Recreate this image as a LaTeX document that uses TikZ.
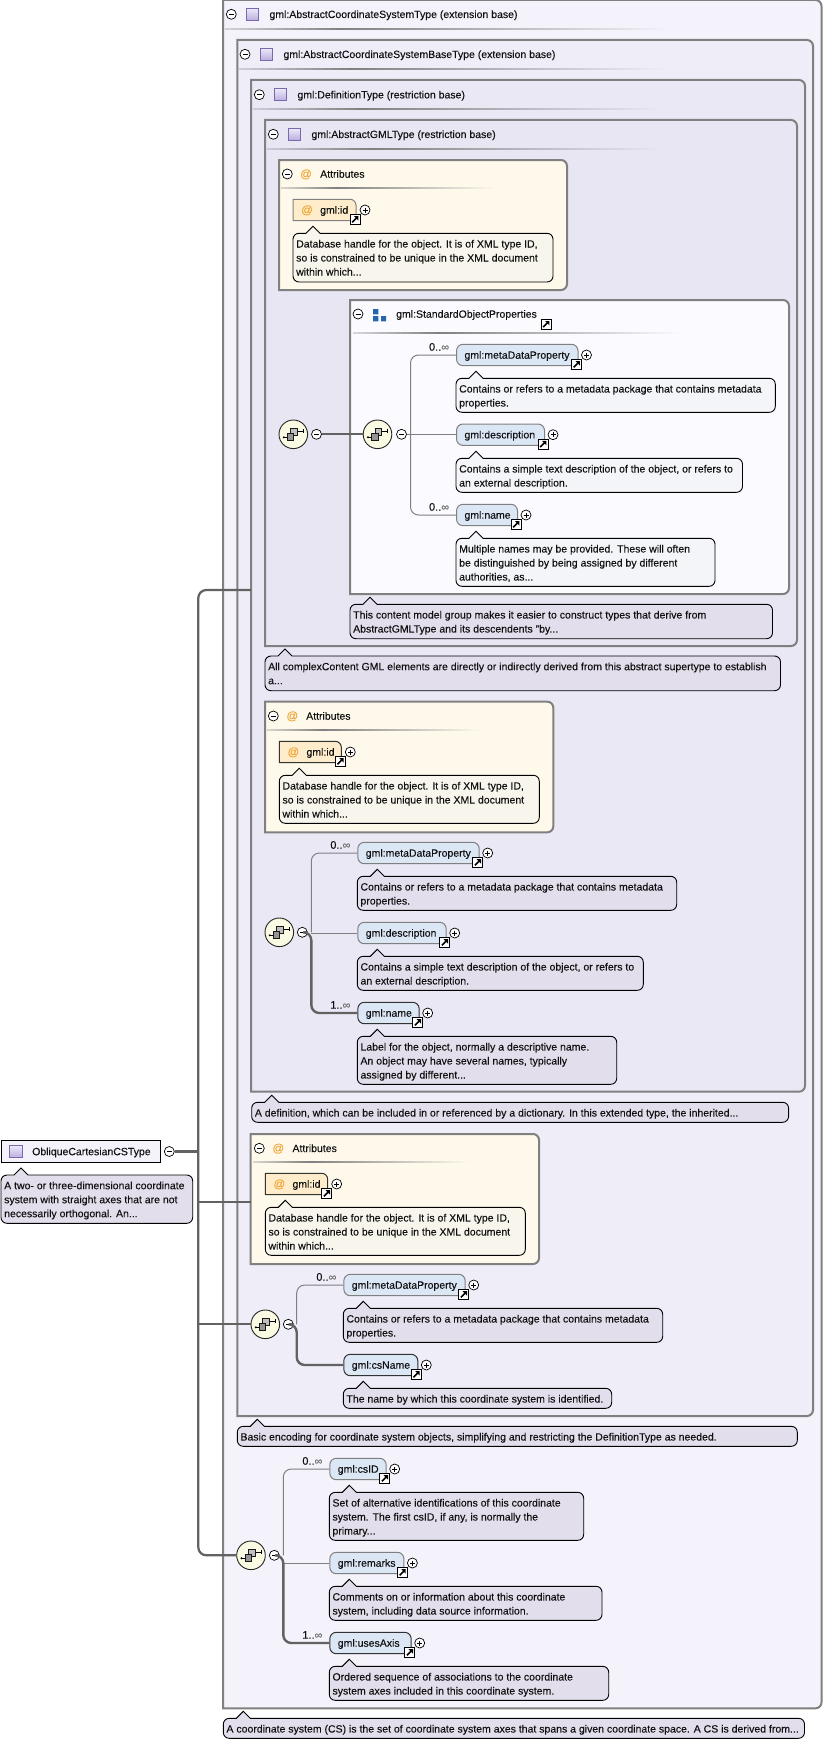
\documentclass[tikz,border=0pt]{standalone}
\usepackage{fontspec}
\setmainfont{Liberation Sans}[FakeBold=0.12]
\definecolor{bgA}{HTML}{F4F2FA}
\definecolor{bgB}{HTML}{EFEDF7}
\definecolor{bgC}{HTML}{EBE8F5}
\definecolor{bgD}{HTML}{E9E6F3}
\definecolor{bgAttr}{HTML}{FFF9EC}
\definecolor{bgStd}{HTML}{FBFBFF}
\definecolor{cLav}{HTML}{E3DEEC}
\definecolor{cAttr}{HTML}{F8F5EC}
\definecolor{cStd}{HTML}{F4F5F8}
\definecolor{elFill}{HTML}{DCE7F6}
\definecolor{atFill}{HTML}{FFECCB}
\definecolor{bord}{HTML}{808080}
\definecolor{ink}{HTML}{111111}
\definecolor{busc}{HTML}{626262}
\definecolor{seqFill}{HTML}{FBFAE2}
\definecolor{atOr}{HTML}{F0A838}
\definecolor{grpBlue}{HTML}{2565B0}
\definecolor{icBord}{HTML}{7B68AE}
\definecolor{icTop}{HTML}{EDEBFA}
\definecolor{icBot}{HTML}{B9ACDC}
\newcommand{\tstrut}{\rule[-3.3pt]{0pt}{14pt}}
\newcommand{\infsym}{{\color{black!55}∞}}
\tikzset{
 boxline/.style={draw=bord,line width=2pt},
 cmtline/.style={draw=black,line width=0.9pt},
 txt/.style={inner sep=0pt,text=ink,font=\fontsize{10.5}{14}\selectfont,anchor=west},
 cmttxt/.style={inner sep=0pt,text=ink,font=\fontsize{10.5}{14}\selectfont,anchor=north west,align=left},
 toggle/.style={circle,draw=black,line width=0.7pt,fill=white,minimum size=10pt,inner sep=0pt},
 seqnode/.style={circle,draw=black!85,line width=0.9pt,fill=seqFill,minimum size=28.6pt,inner sep=0pt},
 thinc/.style={draw=bord,line width=1pt,rounded corners=8pt},
 thickc/.style={draw=busc,line width=2.4pt,rounded corners=8pt},
 busl/.style={draw=busc,line width=2.2pt,rounded corners=8pt},
 optel/.style={draw=bord,line width=1pt},
 reqel/.style={draw=black!80,line width=1pt},
}
% title separator: x1 x2 y bg, painted in overlapping steps
\newcommand{\sepl}[4]{%
 \pgfmathsetmacro{\seplen}{#2-#1}%
 \foreach \i in {0,...,59}{%
  \pgfmathsetmacro{\sepx}{#1+\seplen*(\i/60)}%
  \pgfmathsetmacro{\sepp}{\i<15 ? 30+70*\i/15 : 100*(59-\i)/44}%
  \fill[bord!\sepp!#4] (\sepx,#3-1) rectangle (#2,#3+1);
 }}
% box with rounded right corners: name x1 y1 x2 y2 fill
\newcommand{\bx}[6]{%
 \draw[boxline,fill=#6] (#2,#3) [rounded corners=6pt] -- (#4,#3) -- (#4,#5) [sharp corners] -- (#2,#5) -- cycle;
 \coordinate (#1) at (#2,#3);}
% comment: name x1 y1 x2 y2 fill text
\newcommand{\cmt}[7]{%
 \draw[cmtline,fill=#6] (#2+13,#3) -- (#2+20,#3-7) -- (#2+27,#3) -- (#4-6,#3) .. controls (#4-2.6,#3) and (#4,#3+2.6) .. (#4,#3+6) -- (#4,#5-6) .. controls (#4,#5-2.6) and (#4-2.6,#5) .. (#4-6,#5) -- (#2+6,#5) .. controls (#2+2.6,#5) and (#2,#5-2.6) .. (#2,#5-6) -- (#2,#3+6) .. controls (#2,#3+2.6) and (#2+2.6,#3) .. (#2+6,#3) -- cycle;
 \node[cmttxt] (#1) at (#2+3,#3+3.3) {\tstrut #7};}
% toggles: name x y
\newcommand{\tgm}[3]{%
 \node[toggle] (#1) at (#2,#3) {};
 \draw[black,line width=0.8pt] (#2-2.5,#3) -- (#2+2.5,#3);}
\newcommand{\tgp}[3]{%
 \node[toggle] (#1) at (#2,#3) {};
 \draw[black,line width=0.8pt] (#2-2.5,#3) -- (#2+2.5,#3) (#2,#3-2.5) -- (#2,#3+2.5);}
% link icon
\newcommand{\lnk}[2]{%
 \draw[black,line width=1pt,fill=white] (#1-5,#2-5) rectangle (#1+5,#2+5);
 \draw[black,line width=1.6pt] (#1-2.8,#2+2.8) -- (#1+1.5,#2-1.5);
 \fill[black] (#1+3.3,#2-3.3) -- (#1-1,#2-3.3) -- (#1+3.3,#2+1) -- cycle;}
% type icon
\newcommand{\ticon}[2]{%
 \draw[draw=icBord,line width=0.8pt,top color=icTop,bottom color=icBot] (#1,#2-6.2) rectangle (#1+12.6,#2+6.2);}
% sequence node
\newcommand{\seqn}[3]{%
 \node[seqnode] (#1) at (#2,#3) {};
 \draw[black,line width=0.9pt] (#2-9.5,#3+3) -- (#2-6,#3+3) (#2+4,#3-3.3) -- (#2+10,#3-3.3) (#2+10,#3-5) -- (#2+10,#3-1.6);
 \fill[black] (#2-9.5,#3+3) circle (1.1pt);
 \draw[black!90,line width=1pt,fill=black!25] (#2-2.4,#3-5.6) rectangle (#2+4,#3+1);
 \draw[black!90,line width=0.9pt,fill=black!42] (#2-6,#3-0.4) rectangle (#2+0.6,#3+5.8);}
% element: name x1 x2 ymid style text
\newcommand{\elem}[6]{%
 \pgfmathsetmacro{\elw}{#3-#2}%
 \node[#5,fill=elFill,rounded corners=6.5pt,anchor=west,minimum width=\elw pt,minimum height=21.4pt,inner ysep=0pt,text=ink,font=\fontsize{10.5}{14}\selectfont,text width=\elw pt-16pt,inner xsep=8pt,align=left] (#1) at (#2,#4) {\tstrut #6};
 \lnk{#3-1}{#4+9.5}
 \tgp{#1p}{#3+9}{#4}}
% attribute: name x1 x2 ymid drawcolor
\newcommand{\attrn}[5]{%
 \draw[draw=#5,line width=1pt,fill=atFill] (#2,#4-10.7) [rounded corners=6pt] -- (#3,#4-10.7) [sharp corners] -- (#3,#4+10.7) -- (#2,#4+10.7) -- cycle;
 \node[txt,text=atOr,font=\fontsize{11.5}{14}\selectfont] (#1a) at (#2+8,#4) {\tstrut @};
 \node[txt] (#1) at (#2+27,#4) {\tstrut gml:id};
 \lnk{#3-1}{#4+9.5}
 \tgp{#1p}{#3+9}{#4}}
\newcommand{\occ}[4]{\node[txt,anchor=east,font=\fontsize{11}{14}\selectfont] (#1) at (#2-6.7,#3-8) {\tstrut #4};}
\newcommand{\hdr}[6]{% name togglex iconx textx y text
 \tgm{#1t}{#2}{#5}
 \ticon{#3}{#5}
 \node[txt] (#1) at (#4,#5) {\tstrut #6};}
\newcommand{\ahdr}[5]{% name togglex atx textx y
 \tgm{#1t}{#2}{#5}
 \node[txt,anchor=center,text=atOr,font=\fontsize{11.5}{14}\selectfont] (#1a) at (#3,#5) {\tstrut @};
 \node[txt] (#1) at (#4,#5) {\tstrut Attributes};}
\begin{document}
\begin{tikzpicture}[x=1pt,y=-1pt]
\useasboundingbox (0,0) rectangle (823,1742);
\fill[white] (0,0) rectangle (823,1742);
% boxes
\bx{bOuter}{223}{0}{821.5}{1708.3}{bgA}
\hdr{tOuter}{231.3}{246}{269.3}{14.3}{gml:AbstractCoordinateSystemType (extension base)}
\sepl{225}{673}{29}{bgA}
\bx{bBase}{237.3}{40}{813}{1416}{bgB}
\hdr{tBase}{245}{260}{283.3}{54.3}{gml:AbstractCoordinateSystemBaseType (extension base)}
\sepl{239}{669}{69}{bgB}
\bx{bDef}{251}{80}{805}{1091.7}{bgC}
\hdr{tDef}{259.3}{274}{297.3}{94.7}{gml:DefinitionType (restriction base)}
\sepl{253}{667}{109}{bgC}
\bx{bGml}{265}{120}{797}{646}{bgD}
\hdr{tGml}{273.3}{288}{311.3}{134.3}{gml:AbstractGMLType (restriction base)}
\sepl{267}{665}{149}{bgD}
% attributes 1
\bx{bAttrA}{279}{160}{567}{290}{bgAttr}
\ahdr{tAttrA}{287.3}{306}{320}{174}
\sepl{281}{496.7}{187.7}{bgAttr}
\attrn{idA}{293}{356}{210}{bord}
\cmt{cIdA}{293}{233.3}{553}{282}{cAttr}{Database handle for the object. It is of XML type ID,\\so is constrained to be unique in the XML document\\within which...}
% std group
\bx{bStd}{350}{300}{789}{594}{bgStd}
\tgm{tStdt}{358}{314}
\fill[grpBlue] (373,309) rectangle (378.3,314.3) (373,316) rectangle (378.3,321.3) (381,316) rectangle (386.2,321.3);
\node[txt] (tStd) at (396,314) {\tstrut gml:StandardObjectProperties};
\lnk{546}{324.3}
\sepl{353}{682}{332.7}{bgStd}
\seqn{sA}{293.3}{434.3}
\tgm{mA}{316.5}{434.3}
\seqn{sB}{377.5}{434.3}
\tgm{mB}{401.5}{434.3}
\coordinate (jB) at (410.5,434.3);
\elem{eAm}{456}{577.5}{355}{optel}{gml:metaDataProperty}
\elem{eAd}{456}{544}{434.7}{optel}{gml:description}
\elem{eAn}{456}{517}{515}{optel}{gml:name}
\occ{oAm}{456}{355}{0..\infsym}
\occ{oAn}{456}{515}{0..\infsym}
\cmt{cAm}{456}{378.3}{775.3}{412.3}{cStd}{Contains or refers to a metadata package that contains metadata\\properties.}
\cmt{cAd}{456}{458.3}{742.5}{492.3}{cStd}{Contains a simple text description of the object, or refers to\\an external description.}
\cmt{cAn}{456}{538.3}{715}{586.3}{cStd}{Multiple names may be provided. These will often\\be distinguished by being assigned by different\\authorities, as...}
\draw[thinc] (jB) |- (eAm.west);
\draw[thinc] (jB |- eAd.west) -- (eAd.west);
\draw[thinc] (jB) |- (eAn.west);
\draw[thinc,rounded corners=0pt] (mB.east) -- (jB);
\draw[thickc,line width=2pt] (mA.east) -- (sB.west);
\cmt{cStd}{350}{604.3}{772.5}{638.7}{cLav}{This content model group makes it easier to construct types that derive from\\AbstractGMLType and its descendents "by...}
\cmt{cGml}{265}{656}{780.5}{690.7}{cLav}{All complexContent GML elements are directly or indirectly derived from this abstract supertype to establish\\a...}
% attributes 2
\bx{bAttrB}{265}{701.7}{553.3}{832.3}{bgAttr}
\ahdr{tAttrB}{273.3}{292.3}{306}{716}
\sepl{267}{483}{730}{bgAttr}
\attrn{idB}{279.3}{341.3}{752}{black!80}
\cmt{cIdB}{279.3}{775.3}{539.3}{823.3}{cAttr}{Database handle for the object. It is of XML type ID,\\so is constrained to be unique in the XML document\\within which...}
% definition sequence
\seqn{sC}{279.3}{932.3}
\tgm{mC}{302.3}{932.3}
\coordinate (jC) at (311.3,932.3);
\elem{eBm}{357.3}{478.7}{853}{optel}{gml:metaDataProperty}
\elem{eBd}{357.3}{445.7}{933}{optel}{gml:description}
\elem{eBn}{357.3}{418.7}{1013}{reqel}{gml:name}
\occ{oBm}{357.3}{853}{0..\infsym}
\occ{oBn}{357.3}{1013}{1..\infsym}
\cmt{cBm}{357.3}{876.3}{676.7}{910.3}{cLav}{Contains or refers to a metadata package that contains metadata\\properties.}
\cmt{cBd}{357.3}{956.3}{643.3}{990.3}{cLav}{Contains a simple text description of the object, or refers to\\an external description.}
\cmt{cBn}{357.3}{1036.3}{616.7}{1084.3}{cLav}{Label for the object, normally a descriptive name.\\An object may have several names, typically\\assigned by different...}
\draw[thinc] (jC) |- (eBm.west);
\draw[thinc] (jC |- eBd.west) -- (eBd.west);
\draw[thickc] (mC.east) -- (jC) |- (eBn.west);
\cmt{cDef}{251.7}{1102.3}{788.6}{1122.3}{cLav}{A definition, which can be included in or referenced by a dictionary. In this extended type, the inherited...}
% attributes 3
\bx{bAttrC}{250.7}{1134}{539}{1264}{bgAttr}
\ahdr{tAttrC}{259.3}{278.3}{292.3}{1148.3}
\sepl{253}{471.7}{1162.3}{bgAttr}
\attrn{idC}{265.3}{327.7}{1184}{black!80}
\cmt{cIdC}{265.3}{1207.3}{525.3}{1255.3}{cAttr}{Database handle for the object. It is of XML type ID,\\so is constrained to be unique in the XML document\\within which...}
% base sequence
\seqn{sD}{265.3}{1324.3}
\tgm{mD}{288.3}{1324.3}
\coordinate (jD) at (296.7,1324.3);
\elem{eCm}{343.3}{464.7}{1285}{optel}{gml:metaDataProperty}
\elem{eCn}{343.3}{417.3}{1365}{reqel}{gml:csName}
\occ{oCm}{343.3}{1285}{0..\infsym}
\cmt{cCm}{343.3}{1308.3}{662.7}{1342.3}{cLav}{Contains or refers to a metadata package that contains metadata\\properties.}
\cmt{cCn}{343.3}{1388.3}{611.7}{1408.3}{cLav}{The name by which this coordinate system is identified.}
\draw[thinc] (jD) |- (eCm.west);
\draw[thickc] (mD.east) -- (jD) |- (eCn.west);
\cmt{cBase}{237.3}{1426.3}{797.3}{1446.3}{cLav}{Basic encoding for coordinate system objects, simplifying and restricting the DefinitionType as needed.}
% outer sequence
\seqn{sE}{251}{1555.3}
\tgm{mE}{274.3}{1555.3}
\coordinate (jE) at (283.3,1555.3);
\elem{eDi}{329.3}{385.7}{1469}{optel}{gml:csID}
\elem{eDr}{329.3}{403.4}{1563}{optel}{gml:remarks}
\elem{eDa}{329.3}{410.7}{1643}{reqel}{gml:usesAxis}
\occ{oDi}{329.3}{1469}{0..\infsym}
\occ{oDa}{329.3}{1643}{1..\infsym}
\cmt{cDi}{329.3}{1492.3}{583.7}{1540.3}{cLav}{Set of alternative identifications of this coordinate\\system. The first csID, if any, is normally the\\primary...}
\cmt{cDr}{329.3}{1586.3}{602}{1620.3}{cLav}{Comments on or information about this coordinate\\system, including data source information.}
\cmt{cDa}{329.3}{1666.3}{608.7}{1700.3}{cLav}{Ordered sequence of associations to the coordinate\\system axes included in this coordinate system.}
\draw[thinc] (jE) |- (eDi.west);
\draw[thinc,rounded corners=0pt] (jE |- eDr.west) -- (eDr.west);
\draw[thickc] (mE.east) -- (jE) |- (eDa.west);
\cmt{cOuter}{223.3}{1718.3}{804.5}{1738.3}{cLav}{A coordinate system (CS) is the set of coordinate system axes that spans a given coordinate space. A CS is derived from...}
% root
\node[draw=black,line width=1pt,fill=bgA,anchor=west,minimum width=159pt,minimum height=21.6pt,inner xsep=0pt,inner ysep=0pt] (root) at (1,1151.5) {};
\ticon{9.3}{1151.5}
\node[txt] (rootT) at (32,1151.5) {\tstrut ObliqueCartesianCSType};
\tgm{mRoot}{169.3}{1151.5}
\cmt{cRoot}{1}{1175}{192.7}{1223.3}{cLav}{A two- or three-dimensional coordinate\\system with straight axes that are not\\necessarily orthogonal. An...}
% bus
\coordinate (busT) at (198.3,590);
\coordinate (busB) at (198.3,1555.3);
\coordinate (defIn) at (251,590);
\coordinate (attrIn) at (250.7,1202.3);
\coordinate (rootJ) at (198.3,1151.5);
\coordinate (attrJ) at (198.3,1202.3);
\coordinate (seqJ) at (198.3,1324.3);
\draw[busl] (defIn) -- (busT) -- (busB) -- (sE.west);
\draw[busl,line width=3pt,rounded corners=0pt] (mRoot.east) -- (rootJ);
\draw[busl,rounded corners=0pt] (attrJ) -- (attrIn);
\draw[busl,rounded corners=0pt] (seqJ) -- (sD.west);
\end{tikzpicture}
\end{document}
